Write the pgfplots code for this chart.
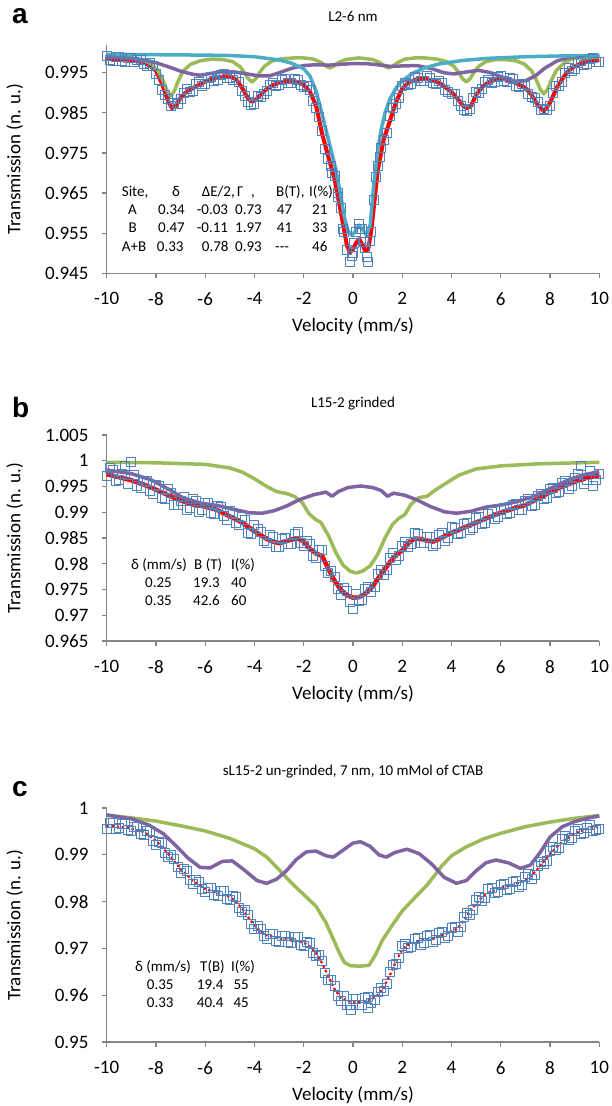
\documentclass[border=0pt]{standalone}
\usepackage{fontspec}
\setmainfont{Carlito}
\newfontfamily\arialfont{Liberation Sans}
\usepackage{pgfplots}
\pgfplotsset{compat=1.18}
\definecolor{axgray}{HTML}{868686}
\definecolor{sqblue}{HTML}{4F81BD}
\definecolor{fitgreen}{HTML}{9BBB59}
\definecolor{fitpurple}{HTML}{8064A2}
\definecolor{fitcyan}{HTML}{4BACC6}
\newcommand{\tk}{\fontsize{19}{22}\selectfont}
\newcommand{\tb}{\fontsize{15}{18}\selectfont}
\pgfplotsset{mossb/.style={
    scale only axis, width=492.6pt, xmin=-10, xmax=10, anchor=south west,
    axis x line*=bottom, axis y line*=left,
    axis line style={axgray, line width=1.3pt, -},
    tick align=outside, major tick length=5pt,
    tick style={axgray, line width=1.2pt},
    xtick={-10,-8,...,10}, xticklabels={-10,-8,-6,-4,-2,0,2,4,6,8,10},
    ticklabel style={font=\tk},
    xticklabel style={inner sep=0pt, yshift=-14pt},
    yticklabel style={inner sep=0pt, xshift=-13pt},
    xlabel={Velocity (mm/s)}, ylabel={Transmission (n. u.)},
    every axis x label/.style={at={([yshift=-53pt]axis description cs:0.5,0)}, anchor=center, font=\tk},
    every axis y label/.style={at={([xshift=-92pt]axis description cs:0,0.5)}, rotate=90, anchor=center, font=\tk},
    clip=false,
    every axis plot/.append style={line join=round},
  },
  dat/.style={only marks, mark=square, mark size=4.5pt, mark options={draw=sqblue, line width=1pt, fill=none}},
  comp/.style={no marks, line width=3.5pt},
}
\begin{document}
\begin{tikzpicture}
\useasboundingbox (0,0) rectangle (611pt,1106pt);

% ---------------- a ----------------
\begin{axis}[mossb, at={(106.7pt,832.7pt)}, height=228.6pt, ymin=0.945, ymax=1.002,
  ytick={0.945,0.955,0.965,0.975,0.985,0.995},
  yticklabels={0.945,0.955,0.965,0.975,0.985,0.995}]
\addplot[no marks, red, line width=4pt] coordinates {
(-10,0.9985)(-9.5,0.9984)(-9,0.9982)(-8.75,0.9979)(-8.5,0.9976)(-8.25,0.9968)(-8,0.9955)
(-7.75,0.9922)(-7.5,0.9878)(-7.35,0.9862)(-7.2,0.9868)(-7,0.9888)(-6.75,0.9903)(-6.5,0.9912)
(-6.25,0.9920)(-6,0.9928)(-5.75,0.9934)(-5.5,0.9938)(-5.25,0.9941)(-5,0.9941)(-4.75,0.9934)
(-4.5,0.9912)(-4.25,0.9885)(-4.1,0.9878)(-3.9,0.9885)(-3.75,0.9896)(-3.5,0.9910)(-3.25,0.9919)
(-3,0.9925)(-2.75,0.9929)(-2.5,0.9930)(-2.25,0.9927)(-2,0.9920)(-1.75,0.9903)(-1.5,0.9868)
(-1.25,0.9797)(-1,0.9740)(-0.75,0.9685)(-0.5,0.9605)(-0.25,0.9520)(-0.12,0.9502)(0,0.9510)
(0.12,0.9525)(0.25,0.9535)(0.38,0.9522)(0.5,0.9505)(0.62,0.9510)(0.75,0.9560)(0.88,0.9635)
(1,0.9705)(1.25,0.9785)(1.5,0.9830)(1.75,0.9878)(2,0.9910)(2.25,0.9926)(2.5,0.9932)
(2.75,0.9935)(3,0.9934)(3.25,0.9931)(3.5,0.9925)(3.75,0.9914)(4,0.9902)(4.25,0.9885)
(4.5,0.9866)(4.65,0.9862)(4.8,0.9868)(5,0.9895)(5.25,0.9915)(5.5,0.9926)(5.75,0.9932)
(6,0.9935)(6.25,0.9933)(6.5,0.9928)(6.75,0.9920)(7,0.9912)(7.25,0.9895)(7.5,0.9870)
(7.75,0.9854)(8,0.9875)(8.25,0.9910)(8.5,0.9935)(8.75,0.9955)(9,0.9966)(9.25,0.9973)
(9.5,0.9977)(9.75,0.9980)(10,0.9982)};
\addplot[dat] coordinates {
(-10,0.9992)(-9.75,0.9980)(-9.5,0.9990)(-9.25,0.9978)(-9,0.9987)(-8.75,0.9983)(-8.5,0.9972)
(-8.25,0.9975)(-8,0.9948)(-7.75,0.9908)(-7.5,0.9885)(-7.25,0.9875)(-7,0.9884)(-6.75,0.9910)
(-6.5,0.9905)(-6.25,0.9926)(-6,0.9922)(-5.75,0.9940)(-5.5,0.9933)(-5.25,0.9947)(-5,0.9936)
(-4.75,0.9940)(-4.5,0.9905)(-4.25,0.9878)(-4,0.9872)(-3.75,0.9890)(-3.5,0.9904)(-3.25,0.9925)
(-3,0.9919)(-2.75,0.9934)(-2.5,0.9924)(-2.25,0.9931)(-2,0.9914)(-1.75,0.9908)(-1.5,0.9862)
(-1.25,0.9804)(-1,0.9734)(-0.85,0.9700)(-0.75,0.9692)(-0.6,0.9640)(-0.5,0.9612)(-0.4,0.9560)
(-0.25,0.9508)(-0.12,0.9478)(0,0.9500)(0.12,0.9552)(0.25,0.9572)(0.38,0.9560)(0.5,0.9512)
(0.62,0.9478)(0.75,0.9552)(0.85,0.9632)(1,0.9718)(1.1,0.9740)(1.25,0.9782)(1.5,0.9842)
(1.75,0.9872)(2,0.9916)(2.25,0.9920)(2.5,0.9940)(2.75,0.9929)(3,0.9941)(3.25,0.9925)
(3.5,0.9930)(3.75,0.9908)(4,0.9896)(4.25,0.9879)(4.5,0.9858)(4.75,0.9860)(5,0.9902)
(5.25,0.9910)(5.5,0.9933)(5.75,0.9926)(6,0.9942)(6.25,0.9928)(6.5,0.9934)(6.75,0.9914)
(7,0.9917)(7.25,0.9889)(7.5,0.9876)(7.75,0.9860)(8,0.9868)(8.25,0.9916)(8.5,0.9928)
(8.75,0.9962)(9,0.9960)(9.25,0.9980)(9.5,0.9971)(9.75,0.9987)(10,0.9978)};
\addplot[dat] coordinates {
(-9.875,0.9981)(-9.625,0.9989)(-9.375,0.9979)(-9.125,0.9986)(-8.875,0.9976)(-8.625,0.9981)
(-8.375,0.9966)(-8.125,0.9968)(-7.875,0.9932)(-7.625,0.9895)(-7.375,0.9868)(-7.125,0.9872)
(-6.875,0.9900)(-6.625,0.9902)(-6.375,0.9921)(-6.125,0.9918)(-5.875,0.9936)(-5.625,0.9930)
(-5.375,0.9944)(-5.125,0.9937)(-4.875,0.9931)(-4.625,0.9928)(-4.375,0.9892)(-4.125,0.9870)
(-3.875,0.9893)(-3.625,0.9898)(-3.375,0.9919)(-3.125,0.9916)(-2.875,0.9932)(-2.625,0.9925)
(-2.375,0.9934)(-2.125,0.9919)(-1.875,0.9916)(-1.625,0.9880)(-1.375,0.9840)(-1.125,0.9760)
(-0.875,0.9718)(-0.625,0.9650)(-0.375,0.9552)(-0.05,0.9492)(0.06,0.9525)(0.3,0.9560)
(0.44,0.9528)(0.56,0.9490)(0.68,0.9530)(0.95,0.9690)(1.125,0.9762)(1.375,0.9800)
(1.625,0.9862)(1.875,0.9888)(2.125,0.9924)(2.375,0.9922)(2.625,0.9938)(2.875,0.9930)
(3.125,0.9938)(3.375,0.9922)(3.625,0.9925)(3.875,0.9902)(4.125,0.9898)(4.375,0.9868)
(4.625,0.9855)(4.875,0.9886)(5.125,0.9900)(5.375,0.9926)(5.625,0.9924)(5.875,0.9940)
(6.125,0.9930)(6.375,0.9936)(6.625,0.9918)(6.875,0.9921)(7.125,0.9898)(7.375,0.9888)
(7.625,0.9856)(7.875,0.9858)(8.125,0.9900)(8.375,0.9918)(8.625,0.9950)(8.875,0.9955)
(9.125,0.9975)(9.375,0.9970)(9.625,0.9984)(9.875,0.9976)};
\addplot[comp, fitgreen] coordinates {
(-10,0.9991)(-9,0.9987)(-8.5,0.9981)(-8.2,0.9973)(-7.9,0.9954)(-7.7,0.9929)(-7.55,0.9905)
(-7.4,0.9892)(-7.25,0.9905)(-7.1,0.9929)(-6.9,0.9954)(-6.6,0.9971)(-6.2,0.9980)(-5.75,0.9984)
(-5.3,0.9983)(-4.9,0.9978)(-4.6,0.9966)(-4.4,0.9950)(-4.25,0.9935)(-4.1,0.9927)(-3.95,0.9935)
(-3.8,0.9950)(-3.6,0.9966)(-3.3,0.9979)(-2.9,0.9985)(-2.4,0.9987)(-2,0.9987)(-1.6,0.9984)
(-1.3,0.9976)(-1.1,0.9967)(-0.95,0.9962)(-0.8,0.9966)(-0.6,0.9975)(-0.3,0.9983)(0.25,0.9987)
(0.8,0.9983)(1.1,0.9975)(1.3,0.9966)(1.45,0.9962)(1.6,0.9966)(1.8,0.9975)(2.1,0.9984)
(2.5,0.9987)(2.9,0.9987)(3.4,0.9984)(3.8,0.9978)(4.1,0.9966)(4.3,0.9950)(4.45,0.9935)
(4.6,0.9927)(4.75,0.9935)(4.9,0.9950)(5.1,0.9966)(5.4,0.9978)(5.8,0.9983)(6.2,0.9983)
(6.6,0.9980)(6.95,0.9972)(7.25,0.9955)(7.45,0.9931)(7.6,0.9909)(7.75,0.9897)(7.9,0.9909)
(8.05,0.9931)(8.25,0.9955)(8.55,0.9974)(8.95,0.9986)(9.5,0.9988)(10,0.9990)};
\addplot[comp, fitpurple] coordinates {
(-10,0.9990)(-9,0.9986)(-8.5,0.9982)(-8,0.9975)(-7.5,0.9965)(-7,0.9954)(-6.5,0.9946)
(-6.2,0.9944)(-5.8,0.9948)(-5.3,0.9953)(-4.8,0.9952)(-4.3,0.9947)(-3.8,0.9942)(-3.4,0.9942)
(-3,0.9950)(-2.5,0.9961)(-2,0.9968)(-1.5,0.9970)(-1,0.9969)(-0.5,0.9971)(0,0.9973)
(0.5,0.9973)(1,0.9970)(1.5,0.9966)(2,0.9967)(2.6,0.9968)(3.2,0.9960)(3.7,0.9950)
(4.1,0.9947)(4.6,0.9952)(5.1,0.9956)(5.6,0.9950)(6.1,0.9938)(6.6,0.9929)(7,0.9930)
(7.4,0.9942)(7.8,0.9962)(8.3,0.9980)(8.8,0.9988)(9.4,0.9992)(10,0.9993)};
\addplot[comp, fitcyan] coordinates {
(-10,0.9996)(-8,0.9995)(-6,0.9994)(-5,0.9993)(-4,0.9990)(-3,0.9982)(-2.5,0.9974)
(-2,0.9960)(-1.75,0.9942)(-1.5,0.9905)(-1.3,0.9858)(-1.1,0.9808)(-0.9,0.9760)(-0.7,0.9710)
(-0.5,0.9645)(-0.35,0.9590)(-0.2,0.9555)(-0.05,0.9545)(0.1,0.9555)(0.25,0.9570)(0.4,0.9558)
(0.55,0.9545)(0.7,0.9572)(0.85,0.9675)(1,0.9755)(1.15,0.9810)(1.3,0.9850)(1.5,0.9885)
(1.75,0.9912)(2,0.9930)(2.4,0.9948)(2.9,0.9962)(3.5,0.9972)(4.5,0.9981)(5.5,0.9986)
(7,0.9990)(8.5,0.9992)(10,0.9993)};
\end{axis}

% ---------------- b ----------------
\begin{axis}[mossb, at={(106.7pt,465pt)}, height=206pt, ymin=0.965, ymax=1.005,
  ytick={0.965,0.97,0.975,0.98,0.985,0.99,0.995,1,1.005},
  yticklabels={0.965,0.97,0.975,0.98,0.985,0.99,0.995,1,1.005}]
\addplot[dat] coordinates {
(-10,0.9970)(-9.75,0.9982)(-9.5,0.9962)(-9.25,0.9990)(-9,0.9998)(-8.75,0.9950)(-8.5,0.9960)
(-8.25,0.9942)(-8,0.9953)(-7.75,0.9928)(-7.5,0.9945)(-7.25,0.9915)(-7,0.9922)(-6.75,0.9905)
(-6.5,0.9925)(-6.25,0.9900)(-6,0.9918)(-5.75,0.9898)(-5.5,0.9912)(-5.25,0.9893)(-5,0.9902)
(-4.75,0.9880)(-4.5,0.9890)(-4.25,0.9860)(-4,0.9875)(-3.75,0.9862)(-3.5,0.9840)(-3.25,0.9852)
(-3,0.9832)(-2.75,0.9850)(-2.5,0.9838)(-2.25,0.9862)(-2,0.9835)(-1.75,0.9838)(-1.5,0.9812)
(-1.25,0.9826)(-1,0.9782)(-0.75,0.9775)(-0.5,0.9740)(-0.25,0.9748)(0,0.9712)(0.25,0.9728)
(0.5,0.9750)(0.75,0.9745)(1,0.9780)(1.25,0.9778)(1.5,0.9812)(1.75,0.9808)(2,0.9834)
(2.25,0.9832)(2.5,0.9860)(2.75,0.9840)(3,0.9852)(3.25,0.9835)(3.5,0.9856)(3.75,0.9845)
(4,0.9872)(4.25,0.9858)(4.5,0.9878)(4.75,0.9866)(5,0.9888)(5.25,0.9878)(5.5,0.9896)
(5.75,0.9886)(6,0.9905)(6.25,0.9896)(6.5,0.9914)(6.75,0.9904)(7,0.9921)(7.25,0.9912)
(7.5,0.9932)(7.75,0.9926)(8,0.9945)(8.25,0.9938)(8.5,0.9956)(8.75,0.9945)(9,0.9966)
(9.25,0.9990)(9.5,0.9962)(9.75,0.9950)(10,0.9975)};
\addplot[dat] coordinates {
(-9.875,0.9985)(-9.625,0.9960)(-9.375,0.9975)(-9.125,0.9955)(-8.875,0.9972)(-8.625,0.9948)
(-8.375,0.9960)(-8.125,0.9936)(-7.875,0.9950)(-7.625,0.9925)(-7.375,0.9938)(-7.125,0.9915)
(-6.875,0.9930)(-6.625,0.9908)(-6.375,0.9922)(-6.125,0.9904)(-5.875,0.9918)(-5.625,0.9896)
(-5.375,0.9910)(-5.125,0.9885)(-4.875,0.9898)(-4.625,0.9875)(-4.375,0.9885)(-4.125,0.9858)
(-3.875,0.9868)(-3.625,0.9845)(-3.375,0.9855)(-3.125,0.9832)(-2.875,0.9848)(-2.625,0.9838)
(-2.375,0.9858)(-2.125,0.9840)(-1.875,0.9845)(-1.625,0.9815)(-1.375,0.9826)(-1.125,0.9795)
(-0.875,0.9785)(-0.625,0.9750)(-0.375,0.9752)(-0.125,0.9725)(0.125,0.9742)(0.375,0.9730)
(0.625,0.9755)(0.875,0.9755)(1.125,0.9788)(1.375,0.9788)(1.625,0.9820)(1.875,0.9815)
(2.125,0.9842)(2.375,0.9838)(2.625,0.9858)(2.875,0.9840)(3.125,0.9852)(3.375,0.9838)
(3.625,0.9860)(3.875,0.9850)(4.125,0.9870)(4.375,0.9860)(4.625,0.9880)(4.875,0.9870)
(5.125,0.9890)(5.375,0.9880)(5.625,0.9900)(5.875,0.9890)(6.125,0.9908)(6.375,0.9898)
(6.625,0.9916)(6.875,0.9905)(7.125,0.9925)(7.375,0.9915)(7.625,0.9936)(7.875,0.9928)
(8.125,0.9948)(8.375,0.9940)(8.625,0.9960)(8.875,0.9950)(9.125,0.9975)(9.375,0.9955)
(9.625,0.9980)(9.875,0.9962)};
\addplot[no marks, red, line width=4.5pt] coordinates {
(-10,0.9974)(-9.5,0.9968)(-9,0.9962)(-8.5,0.9954)(-8,0.9944)(-7.5,0.9933)(-7,0.9923)
(-6.5,0.9915)(-6,0.9911)(-5.5,0.9904)(-5,0.9892)(-4.5,0.9880)(-4,0.9863)(-3.5,0.9848)
(-3.25,0.9843)(-3,0.9840)(-2.75,0.9843)(-2.5,0.9847)(-2.25,0.9849)(-2,0.9843)(-1.75,0.9829)
(-1.5,0.9820)(-1.25,0.9815)(-1,0.9790)(-0.75,0.9767)(-0.5,0.9750)(-0.25,0.9739)(0,0.9734)
(0.25,0.9735)(0.5,0.9742)(0.75,0.9753)(1,0.9770)(1.25,0.9787)(1.5,0.9803)(1.75,0.9817)
(2,0.9826)(2.25,0.9840)(2.5,0.9849)(2.75,0.9848)(3,0.9845)(3.25,0.9843)(3.5,0.9848)
(4,0.9860)(4.5,0.9870)(5,0.9880)(5.5,0.9890)(6,0.9899)(6.5,0.9907)(7,0.9914)
(7.5,0.9926)(8,0.9939)(8.5,0.9950)(9,0.9959)(9.5,0.9967)(10,0.9972)};
\addplot[comp, fitgreen] coordinates {
(-10,0.9997)(-8,0.9996)(-6,0.9993)(-5,0.9986)(-4.5,0.9978)(-4,0.9965)(-3.5,0.9950)
(-3.1,0.9940)(-2.7,0.99365)(-2.35,0.9930)(-2.05,0.9918)(-1.8,0.9898)(-1.55,0.9887)(-1.3,0.9880)
(-1,0.9855)(-0.7,0.9822)(-0.4,0.9797)(-0.1,0.9785)(0.15,0.9782)(0.4,0.9786)(0.7,0.9796)
(1,0.9818)(1.3,0.9850)(1.6,0.9876)(1.85,0.9888)(2.1,0.9895)(2.35,0.9915)(2.65,0.9928)
(3,0.9931)(3.4,0.9945)(3.8,0.9957)(4.3,0.9972)(5,0.9984)(6,0.9990)(7.5,0.9994)(10,0.9997)};
\addplot[comp, fitpurple] coordinates {
(-10,0.9982)(-9,0.9975)(-8.2,0.9963)(-7.5,0.9945)(-6.9,0.9928)(-6.2,0.9918)(-5.5,0.9913)
(-4.8,0.9905)(-4.2,0.9899)(-3.7,0.9898)(-3.2,0.9903)(-2.7,0.9912)(-2.2,0.9924)(-1.6,0.9934)
(-1.1,0.9939)(-0.85,0.9931)(-0.6,0.9940)(-0.2,0.9948)(0.3,0.9951)(0.8,0.9948)(1.15,0.9942)
(1.4,0.9931)(1.65,0.9937)(2.1,0.9933)(2.6,0.9924)(3.1,0.9912)(3.7,0.9901)(4.2,0.9898)
(4.8,0.9902)(5.4,0.9910)(6,0.9914)(6.6,0.9920)(7.3,0.9930)(8,0.9946)(8.7,0.9962)
(9.3,0.9972)(10,0.9979)};
\end{axis}

% ---------------- c ----------------
\begin{axis}[mossb, at={(106.7pt,64pt)}, height=234pt, ymin=0.95, ymax=1,
  ytick={0.95,0.96,0.97,0.98,0.99,1},
  yticklabels={0.95,0.96,0.97,0.98,0.99,1}]
\addplot[dat] coordinates {
(-10,0.9955)(-9.75,0.9968)(-9.5,0.9958)(-9.25,0.9965)(-9,0.9950)(-8.75,0.9960)(-8.5,0.9942)
(-8.25,0.9950)(-8,0.9922)(-7.75,0.9925)(-7.5,0.9895)(-7.25,0.9892)(-7,0.9862)(-6.75,0.9866)
(-6.5,0.9838)(-6.25,0.9842)(-6,0.9820)(-5.75,0.9830)(-5.5,0.9812)(-5.25,0.9822)(-5,0.9804)
(-4.75,0.9810)(-4.5,0.9778)(-4.25,0.9772)(-4,0.9742)(-3.75,0.9742)(-3.5,0.9720)(-3.25,0.9730)
(-3,0.9714)(-2.75,0.9727)(-2.5,0.9712)(-2.25,0.9725)(-2,0.9705)(-1.75,0.9712)(-1.5,0.9684)
(-1.25,0.9674)(-1,0.9633)(-0.75,0.9620)(-0.5,0.9588)(-0.25,0.9578)(-0.1,0.9568)(0,0.9592)
(0.25,0.9578)(0.5,0.9595)(0.6,0.9572)(0.75,0.9584)(1,0.9606)(1.25,0.9610)(1.5,0.9650)
(1.75,0.9666)(2,0.9705)(2.25,0.9700)(2.5,0.9720)(2.75,0.9708)(3,0.9727)(3.25,0.9714)
(3.5,0.9732)(3.75,0.9722)(4,0.9744)(4.25,0.9736)(4.5,0.9768)(4.75,0.9772)(5,0.9804)
(5.25,0.9802)(5.5,0.9826)(5.75,0.9818)(6,0.9836)(6.25,0.9824)(6.5,0.9842)(6.75,0.9832)
(7,0.9852)(7.25,0.9848)(7.5,0.9877)(7.75,0.9880)(8,0.9908)(8.25,0.9910)(8.5,0.9934)
(8.75,0.9932)(9,0.9950)(9.25,0.9944)(9.5,0.9958)(9.75,0.9950)(10,0.9955)};
\addplot[dat] coordinates {
(-9.875,0.9968)(-9.625,0.9955)(-9.375,0.9966)(-9.125,0.9952)(-8.875,0.9960)(-8.625,0.9945)
(-8.375,0.9950)(-8.125,0.9930)(-7.875,0.9928)(-7.625,0.9904)(-7.375,0.9899)(-7.125,0.9873)
(-6.875,0.9869)(-6.625,0.9846)(-6.375,0.9846)(-6.125,0.9826)(-5.875,0.9830)(-5.625,0.9814)
(-5.375,0.9822)(-5.125,0.9806)(-4.875,0.9811)(-4.625,0.9786)(-4.375,0.9781)(-4.125,0.9752)
(-3.875,0.9748)(-3.625,0.9726)(-3.375,0.9731)(-3.125,0.9716)(-2.875,0.9726)(-2.625,0.9713)
(-2.375,0.9724)(-2.125,0.9708)(-1.875,0.9714)(-1.625,0.9690)(-1.375,0.9685)(-1.125,0.9648)
(-0.875,0.9632)(-0.625,0.9598)(-0.375,0.9598)(-0.125,0.9580)(0.125,0.9592)(0.375,0.9578)
(0.625,0.9596)(0.875,0.9589)(1.125,0.9615)(1.375,0.9624)(1.625,0.9664)(1.875,0.9680)
(2.125,0.9710)(2.375,0.9704)(2.625,0.9722)(2.875,0.9712)(3.125,0.9728)(3.375,0.9717)
(3.625,0.9734)(3.875,0.9726)(4.125,0.9746)(4.375,0.9745)(4.625,0.9776)(4.875,0.9781)
(5.125,0.9810)(5.375,0.9808)(5.625,0.9829)(5.875,0.9820)(6.125,0.9838)(6.375,0.9827)
(6.625,0.9845)(6.875,0.9836)(7.125,0.9858)(7.375,0.9856)(7.625,0.9885)(7.875,0.9887)
(8.125,0.9916)(8.375,0.9915)(8.625,0.9940)(8.875,0.9935)(9.125,0.9955)(9.375,0.9947)
(9.625,0.9963)(9.875,0.9953)};
\addplot[no marks, red, line width=2.2pt, dash pattern=on 2.5pt off 2.5pt] coordinates {
(-10,0.9962)(-9.5,0.9960)(-9,0.9956)(-8.5,0.9949)(-8.25,0.9940)(-8,0.9930)(-7.75,0.9916)
(-7.5,0.9902)(-7.25,0.9886)(-7,0.9870)(-6.75,0.9857)(-6.5,0.9845)(-6.25,0.9836)(-6,0.9827)
(-5.5,0.9818)(-5,0.9810)(-4.75,0.9800)(-4.5,0.9785)(-4.25,0.9766)(-4,0.9750)(-3.75,0.9736)
(-3.5,0.9728)(-3,0.9721)(-2.5,0.9719)(-2,0.9712)(-1.75,0.9704)(-1.5,0.9690)(-1.25,0.9668)
(-1,0.9640)(-0.75,0.9613)(-0.5,0.9595)(-0.25,0.9588)(0,0.9585)(0.25,0.9585)(0.5,0.9587)
(0.75,0.9591)(1,0.9600)(1.25,0.9617)(1.5,0.9643)(1.75,0.9673)(2,0.9698)(2.25,0.9708)
(2.5,0.9713)(3,0.9720)(3.5,0.9725)(4,0.9736)(4.25,0.9743)(4.5,0.9760)(4.75,0.9779)
(5,0.9796)(5.25,0.9810)(5.5,0.9819)(6,0.9829)(6.5,0.9836)(7,0.9846)(7.25,0.9856)
(7.5,0.9870)(7.75,0.9886)(8,0.9902)(8.25,0.9915)(8.5,0.9928)(9,0.9946)(9.5,0.9955)(10,0.9962)};
\addplot[comp, fitgreen] coordinates {
(-10,0.9985)(-9,0.9979)(-8,0.9972)(-7,0.9962)(-6,0.9951)(-5,0.9935)(-4,0.9913)
(-3.5,0.9895)(-3,0.9868)(-2.5,0.9840)(-2,0.9815)(-1.5,0.9790)(-1.1,0.9755)(-0.8,0.9720)
(-0.55,0.9690)(-0.35,0.9670)(-0.1,0.9663)(0.3,0.9662)(0.65,0.9664)(0.9,0.9685)(1.2,0.9718)
(1.6,0.9750)(2,0.9780)(2.5,0.9808)(3,0.9835)(3.3,0.9855)(3.6,0.9876)(4,0.9898)
(4.6,0.9917)(5.3,0.9934)(6,0.9946)(7,0.9960)(8,0.9970)(9,0.9978)(10,0.9984)};
\addplot[comp, fitpurple] coordinates {
(-10,0.9985)(-9,0.9977)(-8.3,0.9964)(-7.7,0.9945)(-7.2,0.9920)(-6.7,0.9893)(-6.2,0.9873)
(-5.8,0.9872)(-5.3,0.9886)(-4.9,0.9887)(-4.4,0.9867)(-3.9,0.9845)(-3.5,0.9839)(-3.1,0.9848)
(-2.7,0.9866)(-2.3,0.9890)(-1.9,0.9906)(-1.5,0.9908)(-1.1,0.9898)(-0.8,0.9895)(-0.4,0.9910)
(0,0.9925)(0.3,0.9928)(0.7,0.9918)(1.05,0.9900)(1.35,0.9895)(1.7,0.9905)(2.2,0.9912)
(2.7,0.9902)(3.2,0.9880)(3.7,0.9852)(4.2,0.9839)(4.6,0.9845)(5,0.9866)(5.4,0.9883)
(5.8,0.9889)(6.3,0.9883)(6.8,0.9871)(7.2,0.9878)(7.6,0.9905)(8,0.9938)(8.5,0.9960)
(9,0.9971)(9.5,0.9978)(10,0.9983)};
\end{axis}

% ---------------- texts ----------------
\node[anchor=base west, font=\arialfont\bfseries\fontsize{28}{30}\selectfont, inner sep=0pt] at (12pt,1082pt) {a};
\node[anchor=base west, font=\arialfont\bfseries\fontsize{28}{30}\selectfont, inner sep=0pt] at (12pt,688pt) {b};
\node[anchor=base west, font=\arialfont\bfseries\fontsize{28}{30}\selectfont, inner sep=0pt] at (12pt,309pt) {c};
\node[anchor=base, font=\fontsize{15}{18}\selectfont, inner sep=0pt] at (353pt,1084pt) {L2-6 nm};
\node[anchor=base, font=\fontsize{15}{18}\selectfont, inner sep=0pt] at (353pt,698pt) {L15-2 grinded};
\node[anchor=base, font=\fontsize{15}{18}\selectfont, inner sep=0pt] at (353pt,330pt) {sL15-2 un-grinded, 7 nm, 10 mMol of CTAB};

\begin{scope}[every node/.style={anchor=base west, font=\tb, inner sep=0pt}]
% table a
\node at (121.7pt,909pt) {Site,};
\node at (172pt,909pt) {δ};
\node at (201.7pt,909pt) {ΔE/2,};
\node at (237pt,909pt) {Γ};
\node at (251pt,909pt) {,};
\node at (276pt,909pt) {B(T),};
\node at (309pt,909pt) {I(\%)};
\node at (128pt,891pt) {A};
\node at (158pt,891pt) {0.34};
\node at (196.7pt,891pt) {-0.03};
\node at (235pt,891pt) {0.73};
\node at (276.7pt,891pt) {47};
\node at (312pt,891pt) {21};
\node at (128.5pt,873pt) {B};
\node at (158pt,873pt) {0.47};
\node at (196.7pt,873pt) {-0.11};
\node at (235pt,873pt) {1.97};
\node at (276.7pt,873pt) {41};
\node at (312pt,873pt) {33};
\node at (121.7pt,854pt) {A+B};
\node at (156.7pt,854pt) {0.33};
\node at (201.7pt,854pt) {0.78};
\node at (235pt,854pt) {0.93};
\node at (275pt,854pt) {-{}-{}-};
\node at (312pt,854pt) {46};
% table b
\node at (131pt,536pt) {δ (mm/s)};
\node at (194pt,536pt) {B (T)};
\node at (231pt,536pt) {I(\%)};
\node at (145pt,518pt) {0.25};
\node at (193pt,518pt) {19.3};
\node at (231pt,518pt) {40};
\node at (145pt,500pt) {0.35};
\node at (193pt,500pt) {42.6};
\node at (231pt,500pt) {60};
% table c
\node at (135pt,134pt) {δ (mm/s)};
\node at (200pt,134pt) {T(B)};
\node at (231pt,134pt) {I(\%)};
\node at (146.7pt,116pt) {0.35};
\node at (196.7pt,116pt) {19.4};
\node at (233.3pt,116pt) {55};
\node at (146.7pt,98pt) {0.33};
\node at (196.7pt,98pt) {40.4};
\node at (233.3pt,98pt) {45};
\end{scope}
\end{tikzpicture}
\end{document}
